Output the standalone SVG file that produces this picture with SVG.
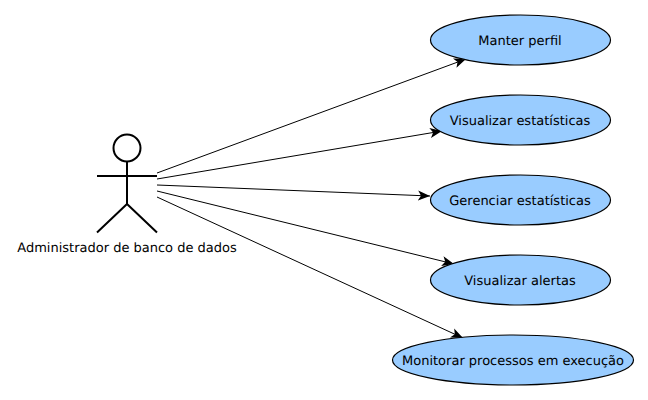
<svg xmlns="http://www.w3.org/2000/svg" width="648" height="400" viewBox="0 0 648 400">
<style>
text{font-family:"DejaVu Sans",sans-serif;font-size:13px;fill:#000;text-anchor:middle;text-rendering:geometricPrecision}
.uc{fill:#99ccff;stroke:#000;stroke-width:1.2}
.a{fill:none;stroke:#000;stroke-width:2}
.c{stroke:#000;stroke-width:1;fill:none;marker-end:url(#h)}
</style>
<defs><marker id="h" markerUnits="userSpaceOnUse" markerWidth="14" markerHeight="12" refX="12" refY="6" orient="auto"><path d="M0 1L12 6L0 11L3 6Z" fill="#000"/></marker></defs>
<rect width="648" height="400" fill="#fff"/>
<g id="connectors">
<path class="c" d="M157 173L466 59"/>
<path class="c" d="M157 179L442 131"/>
<path class="c" d="M157 185L430 196"/>
<path class="c" d="M157 191L454 264"/>
<path class="c" d="M157 197L463 338"/>
</g>
<g id="actor">
<circle class="a" cx="127" cy="148" r="13.500"/>
<path class="a" d="M127 161.500V204M97 176H157M127 204L97 232.500M127 204L157 232.500"/>
<text x="127" y="252">Administrador de banco de dados</text>
</g>
<g id="uc1"><ellipse class="uc" cx="520.500" cy="40" rx="90" ry="25"/><text x="520" y="45">Manter perfil</text></g>
<g id="uc2"><ellipse class="uc" cx="520.500" cy="120" rx="90" ry="25"/><text x="520" y="125">Visualizar estatísticas</text></g>
<g id="uc3"><ellipse class="uc" cx="520.500" cy="200" rx="90" ry="25"/><text x="520" y="205">Gerenciar estatísticas</text></g>
<g id="uc4"><ellipse class="uc" cx="520.500" cy="280" rx="90" ry="25"/><text x="520" y="285">Visualizar alertas</text></g>
<g id="uc5"><ellipse class="uc" cx="513" cy="360" rx="120.500" ry="25"/><text x="513" y="365">Monitorar processos em execução</text></g>
</svg>
